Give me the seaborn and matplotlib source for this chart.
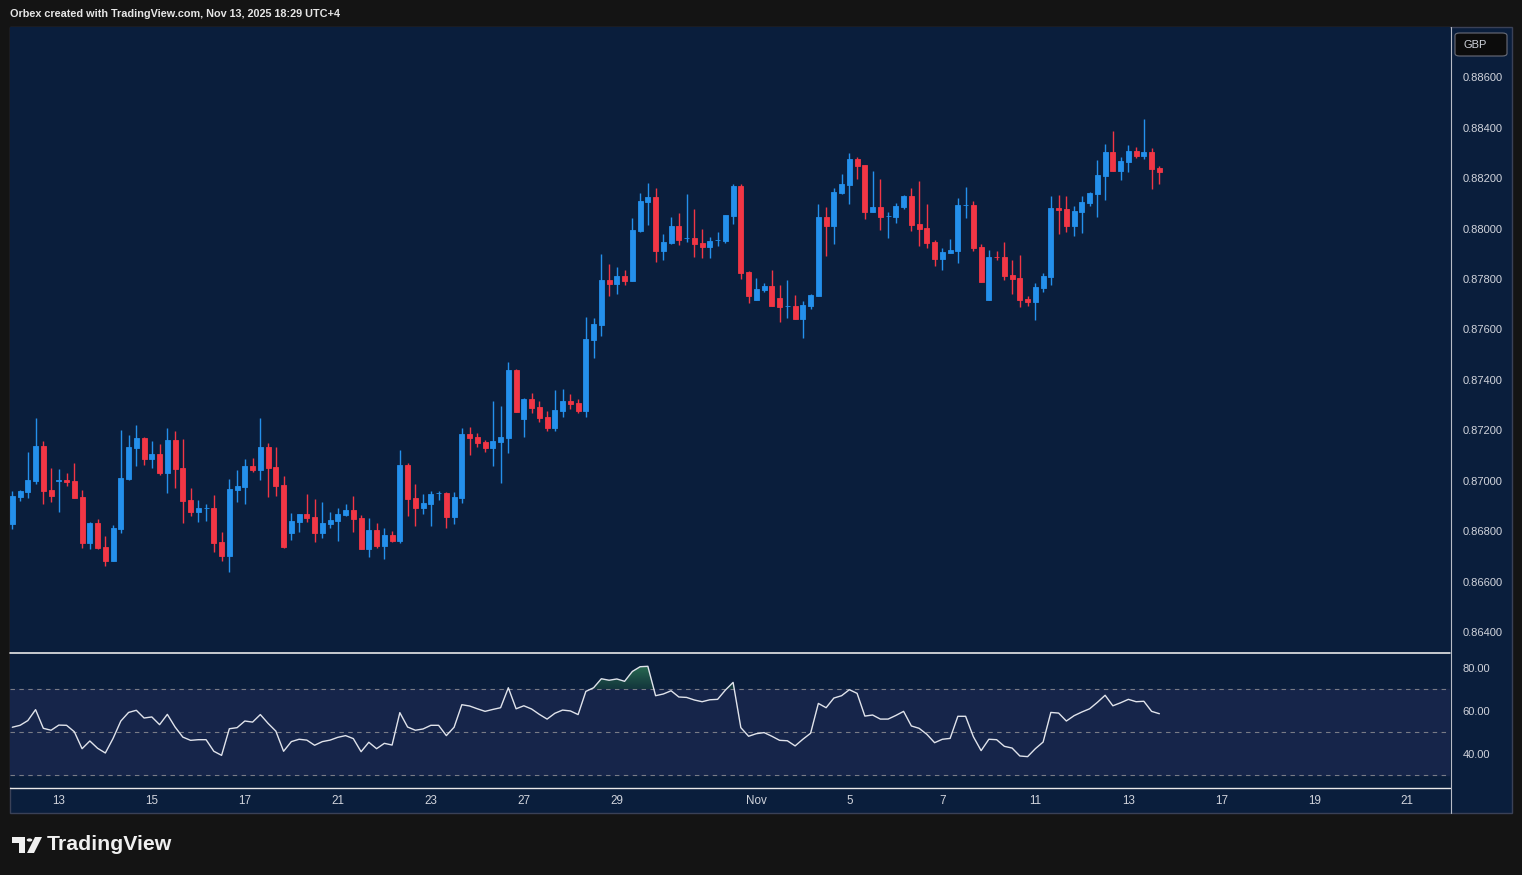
import numpy as np
import pandas as pd
import matplotlib
matplotlib.use('Agg')
import matplotlib.pyplot as plt
import seaborn as sns
from matplotlib.patches import Rectangle, Circle, Polygon, FancyBboxPatch
from matplotlib.lines import Line2D
from matplotlib.path import Path
from matplotlib.colors import LinearSegmentedColormap

# --- Chart data: EURGBP 4H candles, Oct 10 - Nov 13 2025 ---
opens = [
    0.86829, 0.86935, 0.86955, 0.86999, 0.87137, 0.86963, 0.87000, 0.87003, 0.86999, 0.86935,
    0.86753, 0.86832, 0.86737, 0.86682, 0.86808, 0.87007, 0.87130, 0.87169, 0.87086, 0.87106,
    0.87030, 0.87161, 0.87050, 0.86923, 0.86876, 0.86890, 0.86892, 0.86757, 0.86701, 0.86963,
    0.86975, 0.87058, 0.87042, 0.87134, 0.87054, 0.86983, 0.86793, 0.86836, 0.86868, 0.86856,
    0.86793, 0.86828, 0.86840, 0.86864, 0.86884, 0.86852, 0.86729, 0.86804, 0.86741, 0.86785,
    0.86761, 0.87062, 0.86931, 0.86892, 0.86907, 0.86950, 0.86951, 0.86856, 0.86931, 0.87185,
    0.87173, 0.87153, 0.87130, 0.87153, 0.87169, 0.87439, 0.87245, 0.87324, 0.87292, 0.87253,
    0.87209, 0.87276, 0.87316, 0.87308, 0.87276, 0.87558, 0.87617, 0.87796, 0.87780, 0.87812,
    0.87792, 0.87990, 0.88105, 0.88125, 0.87911, 0.87942, 0.88010, 0.87961, 0.87962, 0.87942,
    0.87927, 0.87953, 0.87950, 0.88049, 0.88168, 0.87827, 0.87716, 0.87756, 0.87772, 0.87724,
    0.87692, 0.87693, 0.87641, 0.87693, 0.87732, 0.88045, 0.88010, 0.88141, 0.88172, 0.88275,
    0.88252, 0.88065, 0.88085, 0.88048, 0.88045, 0.88085, 0.88129, 0.88018, 0.88002, 0.87946,
    0.87879, 0.87903, 0.87911, 0.88092, 0.88093, 0.87927, 0.87716, 0.87888, 0.87887, 0.87816,
    0.87804, 0.87720, 0.87709, 0.87764, 0.87808, 0.88081, 0.88077, 0.88010, 0.88065, 0.88101,
    0.88137, 0.88208, 0.88303, 0.88228, 0.88264, 0.88307, 0.88287, 0.88303, 0.88240,
]
highs = [
    0.86959, 0.86963, 0.87114, 0.87249, 0.87157, 0.87050, 0.87046, 0.87030, 0.87070, 0.86963,
    0.86836, 0.86848, 0.86781, 0.86824, 0.87201, 0.87181, 0.87221, 0.87173, 0.87157, 0.87145,
    0.87209, 0.87197, 0.87165, 0.86971, 0.86923, 0.86907, 0.86943, 0.86797, 0.87007, 0.87042,
    0.87086, 0.87090, 0.87249, 0.87149, 0.87134, 0.87019, 0.86872, 0.86869, 0.86947, 0.86927,
    0.86915, 0.86876, 0.86892, 0.86907, 0.86939, 0.86864, 0.86852, 0.86832, 0.86812, 0.86800,
    0.87122, 0.87070, 0.86987, 0.86947, 0.86959, 0.86959, 0.86955, 0.86955, 0.87209, 0.87213,
    0.87189, 0.87161, 0.87316, 0.87296, 0.87470, 0.87443, 0.87328, 0.87348, 0.87316, 0.87276,
    0.87360, 0.87364, 0.87344, 0.87324, 0.87649, 0.87645, 0.87899, 0.87859, 0.87847, 0.87835,
    0.88042, 0.88141, 0.88180, 0.88160, 0.87978, 0.88045, 0.88061, 0.88137, 0.88077, 0.87998,
    0.87966, 0.87986, 0.88054, 0.88176, 0.88176, 0.87831, 0.87804, 0.87784, 0.87835, 0.87776,
    0.87796, 0.87736, 0.87712, 0.87740, 0.88097, 0.88085, 0.88160, 0.88216, 0.88299, 0.88283,
    0.88253, 0.88228, 0.88196, 0.88065, 0.88101, 0.88133, 0.88160, 0.88188, 0.88097, 0.87954,
    0.87923, 0.87958, 0.88121, 0.88164, 0.88109, 0.87938, 0.87915, 0.87911, 0.87946, 0.87875,
    0.87895, 0.87732, 0.87784, 0.87824, 0.88129, 0.88133, 0.88129, 0.88089, 0.88129, 0.88145,
    0.88272, 0.88335, 0.88387, 0.88283, 0.88331, 0.88323, 0.88434, 0.88319, 0.88248,
]
lows = [
    0.86810, 0.86921, 0.86931, 0.86987, 0.86907, 0.86915, 0.86876, 0.86979, 0.86930, 0.86733,
    0.86729, 0.86731, 0.86662, 0.86680, 0.86793, 0.87003, 0.87058, 0.87062, 0.87050, 0.87022,
    0.86951, 0.86971, 0.86832, 0.86860, 0.86836, 0.86840, 0.86717, 0.86682, 0.86638, 0.86915,
    0.86907, 0.87034, 0.87003, 0.86935, 0.86939, 0.86733, 0.86765, 0.86797, 0.86836, 0.86757,
    0.86773, 0.86812, 0.86761, 0.86860, 0.86797, 0.86728, 0.86697, 0.86733, 0.86689, 0.86757,
    0.86753, 0.86860, 0.86820, 0.86868, 0.86820, 0.86923, 0.86812, 0.86828, 0.86911, 0.87102,
    0.87134, 0.87114, 0.87058, 0.86991, 0.87110, 0.87271, 0.87173, 0.87268, 0.87233, 0.87197,
    0.87197, 0.87253, 0.87284, 0.87268, 0.87253, 0.87486, 0.87574, 0.87732, 0.87740, 0.87776,
    0.87790, 0.87986, 0.88014, 0.87867, 0.87875, 0.87938, 0.87934, 0.87946, 0.87887, 0.87883,
    0.87883, 0.87931, 0.87942, 0.88018, 0.87800, 0.87705, 0.87715, 0.87748, 0.87692, 0.87629,
    0.87645, 0.87640, 0.87566, 0.87681, 0.87731, 0.87891, 0.87938, 0.88137, 0.88097, 0.88196,
    0.88038, 0.88064, 0.87994, 0.87962, 0.88022, 0.88077, 0.87990, 0.87931, 0.87923, 0.87851,
    0.87835, 0.87902, 0.87863, 0.88042, 0.87911, 0.87787, 0.87715, 0.87875, 0.87796, 0.87740,
    0.87689, 0.87693, 0.87637, 0.87748, 0.87776, 0.87978, 0.87986, 0.87970, 0.87982, 0.88089,
    0.88045, 0.88113, 0.88227, 0.88192, 0.88224, 0.88279, 0.88275, 0.88157, 0.88176,
]
closes = [
    0.86939, 0.86959, 0.87003, 0.87137, 0.86959, 0.86939, 0.87002, 0.86995, 0.86931, 0.86753,
    0.86832, 0.86733, 0.86682, 0.86812, 0.87011, 0.87134, 0.87169, 0.87086, 0.87106, 0.87030,
    0.87161, 0.87046, 0.86919, 0.86876, 0.86892, 0.86892, 0.86753, 0.86701, 0.86967, 0.86979,
    0.87058, 0.87042, 0.87134, 0.87050, 0.86979, 0.86737, 0.86840, 0.86868, 0.86852, 0.86793,
    0.86832, 0.86844, 0.86868, 0.86884, 0.86848, 0.86729, 0.86804, 0.86741, 0.86785, 0.86761,
    0.87062, 0.86927, 0.86892, 0.86911, 0.86947, 0.86951, 0.86856, 0.86935, 0.87185, 0.87169,
    0.87149, 0.87130, 0.87157, 0.87173, 0.87439, 0.87272, 0.87324, 0.87288, 0.87249, 0.87209,
    0.87280, 0.87316, 0.87304, 0.87276, 0.87562, 0.87621, 0.87796, 0.87780, 0.87812, 0.87792,
    0.87994, 0.88109, 0.88125, 0.87911, 0.87946, 0.88010, 0.87954, 0.87963, 0.87938, 0.87927,
    0.87950, 0.87955, 0.88053, 0.88168, 0.87824, 0.87732, 0.87760, 0.87772, 0.87693, 0.87689,
    0.87694, 0.87641, 0.87697, 0.87736, 0.88045, 0.88010, 0.88145, 0.88176, 0.88275, 0.88248,
    0.88065, 0.88085, 0.88045, 0.88050, 0.88089, 0.88129, 0.88014, 0.87998, 0.87942, 0.87879,
    0.87907, 0.87915, 0.88093, 0.88094, 0.87923, 0.87788, 0.87887, 0.87886, 0.87812, 0.87800,
    0.87716, 0.87709, 0.87768, 0.87812, 0.88081, 0.88073, 0.88010, 0.88069, 0.88105, 0.88141,
    0.88212, 0.88303, 0.88228, 0.88268, 0.88307, 0.88287, 0.88303, 0.88236, 0.88224,
]
rsi_values = [
    52.4, 53.3, 55.5, 60.6, 51.9, 51.0, 53.4, 53.3, 50.3, 42.4,
    46.0, 42.6, 40.4, 47.2, 55.3, 59.3, 60.3, 56.7, 57.2, 53.6,
    58.4, 52.5, 47.8, 46.3, 46.6, 46.6, 41.2, 39.3, 51.7, 52.2,
    55.3, 54.8, 58.3, 54.2, 50.6, 41.2, 45.7, 46.8, 46.4, 44.0,
    45.7, 46.4, 47.7, 48.5, 47.1, 41.0, 45.4, 42.4, 44.9, 44.1,
    59.2, 52.5, 51.0, 51.6, 53.3, 53.3, 48.5, 52.4, 62.9, 62.3,
    61.0, 59.8, 60.7, 61.5, 70.8, 61.0, 62.4, 60.9, 58.4, 56.2,
    58.9, 60.4, 60.0, 58.3, 69.1, 70.8, 75.0, 74.3, 74.9, 73.8,
    78.4, 80.6, 80.8, 67.1, 67.9, 69.4, 66.5, 66.3, 65.1, 64.3,
    65.2, 65.4, 69.7, 73.3, 52.2, 48.2, 49.4, 49.9, 48.2, 46.3,
    46.1, 43.7, 46.8, 49.6, 63.5, 61.5, 66.0, 67.1, 69.9, 68.2,
    57.6, 58.1, 56.2, 56.2, 57.9, 59.8, 53.0, 51.9, 49.1, 45.2,
    46.8, 47.2, 57.5, 57.5, 48.0, 41.5, 46.8, 46.6, 43.5, 42.7,
    39.0, 38.7, 42.4, 45.5, 59.3, 59.0, 55.3, 57.8, 59.5, 61.0,
    64.0, 67.3, 62.4, 63.8, 65.4, 64.3, 64.5, 59.8, 58.7,
]

bars_per_day = 6
first_session = '2025-10-10'
last_axis_day = '2025-11-21'
tick_days = ['2025-10-13', '2025-10-15', '2025-10-17', '2025-10-21', '2025-10-23',
             '2025-10-27', '2025-10-29', '2025-11-03', '2025-11-05', '2025-11-07',
             '2025-11-11', '2025-11-13', '2025-11-17', '2025-11-19', '2025-11-21']
tick_labels = ['13', '15', '17', '21', '23', '27', '29', 'Nov', '5', '7', '11', '13', '17', '19', '21']
price_ticks = [0.864, 0.866, 0.868, 0.870, 0.872, 0.874, 0.876, 0.878, 0.880, 0.882, 0.884, 0.886]
rsi_ticks = [40, 60, 80]
rsi_levels = [70, 50, 30]

# --- Colours ---
FRAME = '#141414'
NAVY = '#0a1e3c'
BAND = '#16254a'
UP = '#2490ec'
DOWN = '#f23645'
TEXT = '#d1d4dc'
AXIS_LINE = '#3a4157'

df = pd.DataFrame({'open': opens, 'high': highs, 'low': lows, 'close': closes, 'rsi': rsi_values})
df['idx'] = range(len(df))
df['up'] = df['close'] >= df['open']

# bar index of the first candle of every session day (6 x 4H bars a day)
days = pd.bdate_range(first_session, last_axis_day)
day_pos = {d.strftime('%Y-%m-%d'): i * bars_per_day for i, d in enumerate(days)}
tick_pos = [day_pos[d] for d in tick_days]

sns.set_theme(style='dark', rc={'axes.facecolor': NAVY, 'figure.facecolor': FRAME})
plt.rcParams['font.family'] = ['Liberation Sans', 'DejaVu Sans']

W, H = 1522, 875


def box(x0, y0, x1, y1):
    return [x0 / W, 1 - y1 / H, (x1 - x0) / W, (y1 - y0) / H]


fig = plt.figure(figsize=(W / 100, H / 100), dpi=100, facecolor=FRAME)
fig.patches.append(Rectangle((10 / W, 1 - 813 / H), 1502 / W, 786 / H, transform=fig.transFigure,
                             facecolor=NAVY, edgecolor=AXIS_LINE, lw=1, zorder=-5))

ax = fig.add_axes(box(10, 27, 1450, 652))
ax2 = fig.add_axes(box(10, 653, 1450, 787), sharex=ax)
for a in (ax, ax2):
    a.set_facecolor(NAVY)
    for s in a.spines.values():
        s.set_visible(False)
    a.grid(False)

# --- Candles ---
colors = [UP if u else DOWN for u in df['up']]
ax.vlines(df['idx'], df['low'], df['high'], colors=colors, lw=1.0, zorder=2)
body_lo = df[['open', 'close']].min(axis=1)
body_h = (df['close'] - df['open']).abs()
ax.bar(df['idx'], body_h, bottom=body_lo, width=0.64, color=colors,
       edgecolor=colors, linewidth=0.6, zorder=3)

ax.set_xlim(-0.3, 185.5)
ax.set_ylim(0.86321, 0.88799)
ax.yaxis.tick_right()
ax.set_yticks(price_ticks)
ax.set_yticklabels([f'{p:.5f}' for p in price_ticks])
ax.tick_params(axis='y', length=0, pad=9.2, labelsize=8.0, labelcolor=TEXT)
ax.tick_params(axis='x', length=0, labelbottom=False)

# --- RSI pane ---
ax2.axhspan(30, 70, color=BAND, zorder=0)
for lvl in rsi_levels:
    ax2.axhline(lvl, color='#787b86', lw=0.8, ls=(0, (4, 4)), zorder=1)

# overbought fill: green gradient, darker near the 70 line
ob = ax2.fill_between(df['idx'], df['rsi'], 70, where=df['rsi'] >= 70, interpolate=True,
                      color='none', lw=0, zorder=2)
ob_cmap = LinearSegmentedColormap.from_list('ob', [(0.09, 0.25, 0.24, 0.75), (0.17, 0.45, 0.33, 0.95)])
grad = ax2.imshow(np.linspace(0, 1, 64).reshape(-1, 1), cmap=ob_cmap, origin='lower', aspect='auto',
                  extent=(df['idx'].min(), df['idx'].max(), 70, 81), zorder=2, interpolation='bilinear')
ob_paths = ob.get_paths()
if ob_paths:
    grad.set_clip_path(Path.make_compound_path(*ob_paths), transform=ax2.transData)

sns.lineplot(data=df, x='idx', y='rsi', ax=ax2, color='#e0e3eb', lw=1.0, zorder=3)
ax2.set_xlim(-0.3, 185.5)
ax2.set_ylim(24.55, 87.0)
ax2.set_xlabel('')
ax2.set_ylabel('')
ax2.yaxis.tick_right()
ax2.set_yticks(rsi_ticks)
ax2.set_yticklabels([f'{v:.2f}' for v in rsi_ticks])
ax2.tick_params(axis='y', length=0, pad=9.2, labelsize=8.0, labelcolor=TEXT)
ax2.set_xticks(tick_pos)
ax2.set_xticklabels(tick_labels)
ax2.tick_params(axis='x', length=0, pad=6, labelsize=8.4, labelcolor=TEXT)

# --- Separators ---
fig.add_artist(Line2D([10 / W, 1450 / W], [1 - 652.5 / H] * 2, color='#e8e8e8', lw=1.2))
fig.add_artist(Line2D([10 / W, 1450 / W], [1 - 787.5 / H] * 2, color='#e8e8e8', lw=1.0))
fig.add_artist(Line2D([1450.5 / W] * 2, [1 - 27 / H, 1 - 813 / H], color='#b8bcc6', lw=0.8))

# --- Header, currency box, logo ---
fig.text(10 / W, 1 - 14 / H, 'Orbex created with TradingView.com, Nov 13, 2025 18:29 UTC+4',
         ha='left', va='center', color='#e6e6e6', fontsize=7.8, weight='bold')
fig.patches.append(FancyBboxPatch((1455 / W, 1 - 56 / H), 52 / W, 23 / H, transform=fig.transFigure,
                                  boxstyle='round,pad=0,rounding_size=0.003', facecolor='#0c0c0c',
                                  edgecolor='#6a6d78', lw=0.8, zorder=5))
fig.text(1463 / W, 1 - 44.5 / H, 'GBP', ha='left', va='center', color=TEXT, fontsize=8.0, zorder=6)

logo = '#f0f0f0'
fig.patches.append(Polygon([(12 / W, 1 - 837 / H), (25 / W, 1 - 837 / H), (25 / W, 1 - 853 / H),
                            (19 / W, 1 - 853 / H), (19 / W, 1 - 843 / H), (12 / W, 1 - 843 / H)],
                           closed=True, transform=fig.transFigure, facecolor=logo, edgecolor='none'))
fig.patches.append(Circle((29.5 / W, 1 - 840 / H), 2.8 / W, transform=fig.transFigure,
                          facecolor=logo, edgecolor='none'))
fig.patches.append(Polygon([(35 / W, 1 - 837 / H), (42 / W, 1 - 837 / H), (34 / W, 1 - 853 / H),
                            (27 / W, 1 - 853 / H)],
                           closed=True, transform=fig.transFigure, facecolor=logo, edgecolor='none'))
fig.text(47 / W, 1 - 845 / H, 'TradingView', ha='left', va='center', color=logo,
         fontsize=15.3, weight='bold')

fig.savefig('out.png', dpi=100, facecolor=FRAME)
